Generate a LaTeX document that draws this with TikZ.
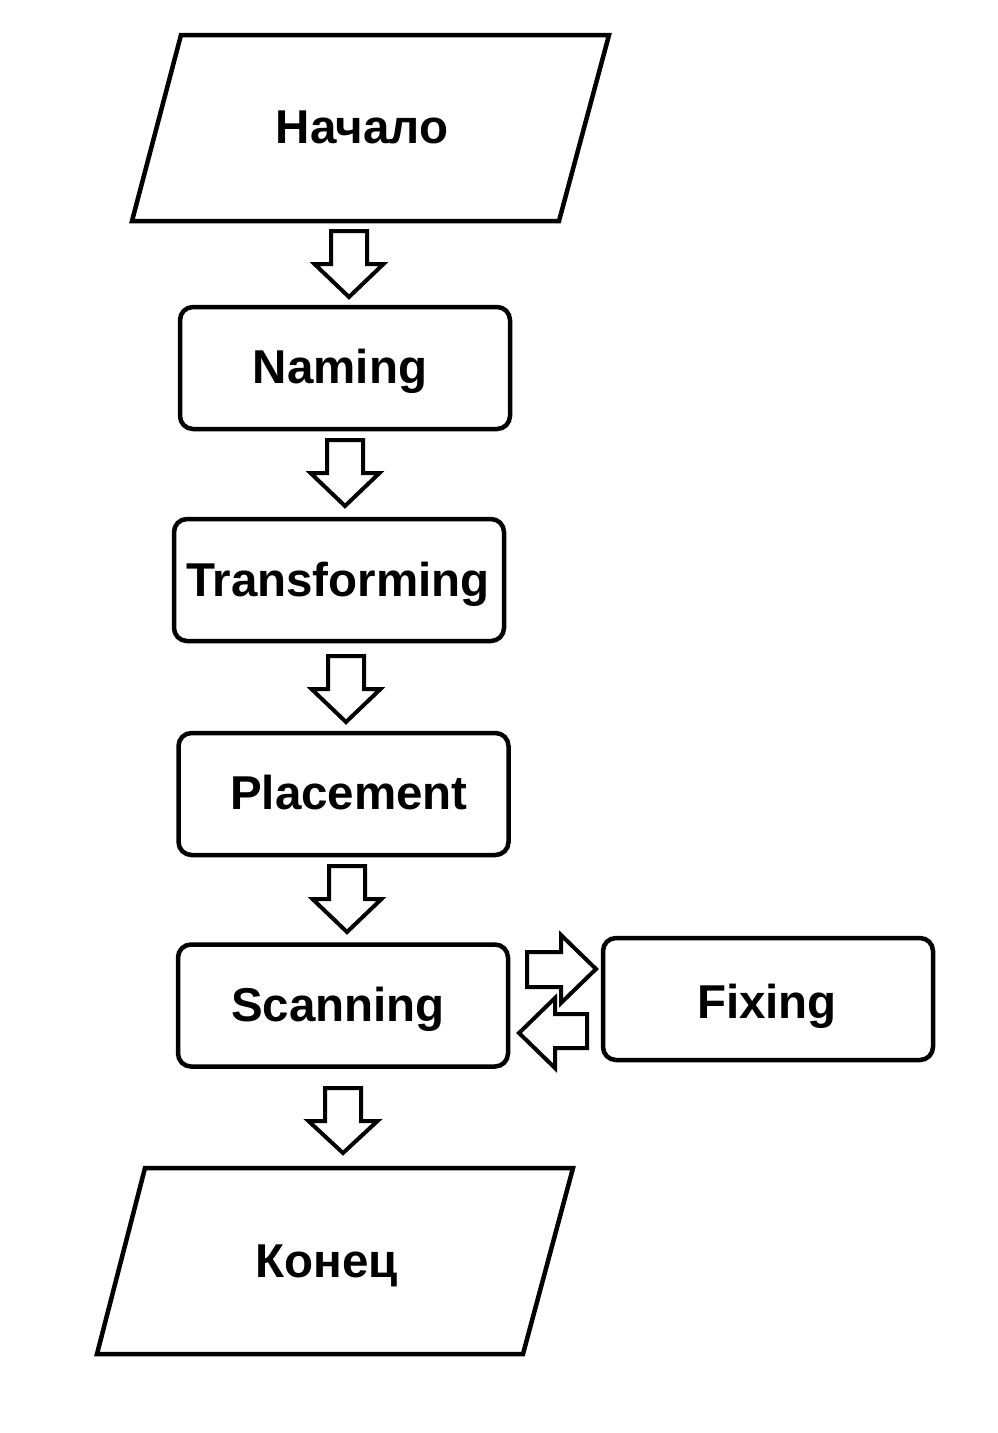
\documentclass[tikz,border=0pt]{standalone}
\usepackage{fontspec}
\setmainfont{Liberation Sans}
\begin{document}
\begin{tikzpicture}[x=1pt,y=-1pt,
  line join=miter,
  box/.style={draw=black,line width=4.5pt,rounded corners=13pt,inner sep=0pt,
    minimum width=330pt,minimum height=122pt},
  lbl/.style={anchor=base,inner sep=0pt,font=\fontsize{47.5}{52}\selectfont\bfseries},
  para/.style={draw=black,line width=4.5pt},
  barrow/.style={draw=black,line width=4pt,fill=white}]
\useasboundingbox (0,0) rectangle (997,1433);
\fill[white] (0,0) rectangle (997,1433);
% start / end parallelograms
\coordinate (s1) at (181,35); \coordinate (s2) at (609,35);
\coordinate (s3) at (559,221); \coordinate (s4) at (132,221);
\draw[para] (s1) -- (s2) -- (s3) -- (s4) -- cycle;
\coordinate (e1) at (145,1168); \coordinate (e2) at (573,1168);
\coordinate (e3) at (523,1354); \coordinate (e4) at (97,1354);
\draw[para] (e1) -- (e2) -- (e3) -- (e4) -- cycle;
% boxes
\node[box] (naming) at (345,368) {};
\node[box] (transf) at (339,580) {};
\node[box] (place) at (343.5,794) {};
\node[box] (scan) at (343,1005.5) {};
\node[box] (fix) at (768,999) {};
% labels
\node[lbl] (tstart) at (362,143) {Начало};
\node[lbl] (tnaming) at (340,383) {Naming};
\node[lbl] (ttransf) at (338,596) {Transforming};
\node[lbl] (tplace) at (349,809) {Placement};
\node[lbl] (tscan) at (338,1021) {Scanning};
\node[lbl] (tfix) at (767,1018) {Fixing};
\node[lbl] (tend) at (327,1277) {Конец};
% block arrows down: cx, top, head start, tip
\newcommand{\blkdown}[4]{%
  \draw[barrow] (#1-18,#2) -- (#1+18,#2) -- (#1+18,#3) -- (#1+34.5,#3)
    -- (#1,#4) -- (#1-34.5,#3) -- (#1-18,#3) -- cycle;}
\blkdown{349}{231}{264}{297}
\blkdown{345}{440}{473}{506}
\blkdown{346}{656}{689}{722}
\blkdown{347}{866}{899}{932}
\blkdown{343}{1088}{1121}{1153}
% right arrow (to Fixing)
\draw[barrow] (527,952) -- (561,952) -- (561,935) -- (596,969) -- (561,1003)
  -- (561,987) -- (527,987) -- cycle;
% left arrow (back to Scanning)
\draw[barrow] (587,1014) -- (555,1014) -- (555,998) -- (519,1033) -- (555,1068)
  -- (555,1048) -- (587,1048) -- cycle;
\end{tikzpicture}
\end{document}
